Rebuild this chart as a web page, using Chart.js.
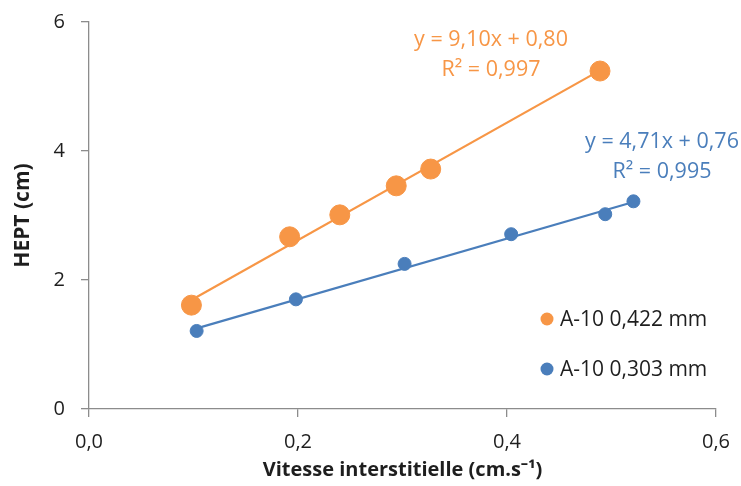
<!DOCTYPE html>
<html>
<head>
<meta charset="utf-8">
<script src="https://cdn.jsdelivr.net/npm/chart.js@4.4.1/dist/chart.umd.min.js"></script>
<style>
  html, body { margin: 0; padding: 0; background: #fff; }
  #wrap { width: 741px; height: 486px; }
</style>
</head>
<body>
<div id="wrap"><canvas id="c"></canvas></div>
<script>
// series names
const seriesNames = ['A-10 0,422 mm', 'A-10 0,303 mm'];

// measured points (x = vitesse, y = HEPT)
const xOrange = [0.098, 0.192, 0.240, 0.294, 0.327, 0.489];
const yOrange = [1.61, 2.67, 3.01, 3.46, 3.72, 5.24];
const xBlue = [0.103, 0.198, 0.302, 0.404, 0.494, 0.521];
const yBlue = [1.21, 1.70, 2.25, 2.71, 3.02, 3.22];

// trendline end points
const trendOrangeX = [0.098, 0.489];
const trendOrangeY = [1.69, 5.25];
const trendBlueX = [0.103, 0.521];
const trendBlueY = [1.25, 3.21];

// equation labels
const eqOrange = ['y = 9,10x + 0,80', 'R² = 0,997'];
const eqBlue = ['y = 4,71x + 0,76', 'R² = 0,995'];

const orange = '#F79646';
const blue = '#4A7EBB';
const axisGrey = '#8C8C8C';
const textCol = '#1E1E1E';
const FONT = "'Open Sans', sans-serif";

const pts = (xs, ys) => xs.map((x, i) => ({ x: x, y: ys[i] }));

// legend + trendline equations drawn on top of the plot
const annotations = {
    id: 'annotations',
    afterDraw(chart) {
        const ctx = chart.ctx;
        ctx.save();
        ctx.textBaseline = 'middle';

        // equations
        ctx.font = '21.5px ' + FONT;
        ctx.textAlign = 'center';
        ctx.fillStyle = orange;
        ctx.fillText(eqOrange[0], 491, 40);
        ctx.fillText(eqOrange[1], 491, 70);
        ctx.fillStyle = blue;
        ctx.fillText(eqBlue[0], 662, 142);
        ctx.fillText(eqBlue[1], 662, 172);

        // legend
        ctx.font = '21px ' + FONT;
        ctx.textAlign = 'left';
        [orange, blue].forEach((col, i) => {
            const y = 319 + i * 50;
            ctx.fillStyle = col;
            ctx.beginPath();
            ctx.arc(547, y, 6.5, 0, Math.PI * 2);
            ctx.fill();
            ctx.fillStyle = textCol;
            ctx.fillText(seriesNames[i], 560, y + 1);
        });
        ctx.restore();
    }
};

new Chart(document.getElementById('c'), {
    type: 'scatter',
    data: {
        datasets: [
            { label: seriesNames[0], data: pts(xOrange, yOrange), backgroundColor: orange, borderColor: orange, pointRadius: 10, pointHoverRadius: 10, showLine: false },
            { label: seriesNames[1], data: pts(xBlue, yBlue), backgroundColor: blue, borderColor: blue, pointRadius: 6.5, pointHoverRadius: 6.5, showLine: false },
            { label: 'trend1', data: pts(trendOrangeX, trendOrangeY), borderColor: orange, borderWidth: 2.2, pointRadius: 0, showLine: true, fill: false },
            { label: 'trend2', data: pts(trendBlueX, trendBlueY), borderColor: blue, borderWidth: 2.2, pointRadius: 0, showLine: true, fill: false }
        ]
    },
    options: {
        responsive: true,
        maintainAspectRatio: false,
        animation: false,
        layout: { padding: { top: 22, right: 25, left: 0, bottom: 0 } },
        plugins: {
            legend: { display: false },
            tooltip: { enabled: false }
        },
        scales: {
            x: {
                type: 'linear',
                min: 0, max: 0.6,
                afterFit: s => { s.height = 77; s.paddingLeft = 0; s.paddingRight = 0; },
                border: { color: axisGrey, width: 1.3 },
                grid: { drawOnChartArea: false, drawTicks: true, tickLength: 8, color: axisGrey, lineWidth: 1.3 },
                ticks: {
                    stepSize: 0.2,
                    color: textCol,
                    padding: 13,
                    font: { family: FONT, size: 20 },
                    callback: v => v.toFixed(1).replace('.', ',')
                },
                title: {
                    display: true,
                    text: 'Vitesse interstitielle (cm.s⁻¹)',
                    color: textCol,
                    font: { family: FONT, size: 20, weight: 'bold' },
                    padding: { top: 0, bottom: 4 }
                }
            },
            y: {
                min: 0, max: 6,
                afterFit: s => { s.width = 89; s.paddingTop = 0; s.paddingBottom = 0; },
                border: { color: axisGrey, width: 1.3 },
                grid: { drawOnChartArea: false, drawTicks: true, tickLength: 8, color: axisGrey, lineWidth: 1.3 },
                ticks: {
                    stepSize: 2,
                    color: textCol,
                    padding: 16,
                    font: { family: FONT, size: 20 }
                },
                title: {
                    display: true,
                    text: 'HEPT (cm)',
                    color: textCol,
                    font: { family: FONT, size: 21, weight: 'bold' },
                    padding: { top: 10, bottom: 0 }
                }
            }
        }
    },
    plugins: [annotations]
});
</script>
</body>
</html>
